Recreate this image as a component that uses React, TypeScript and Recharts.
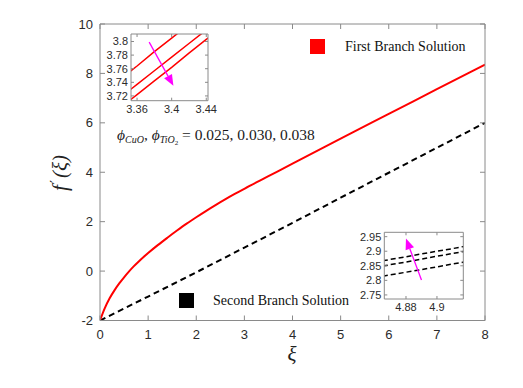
import React from "react";
import { LineChart, Line, XAxis, YAxis, ReferenceLine, Legend } from "recharts";

// main plot: f'(xi) for both branches
const xiFirst = [0, 0.1, 0.2, 0.3, 0.4, 0.5, 0.6, 0.7, 0.8, 0.9, 1.0, 1.2, 1.4, 1.6, 1.8, 2.0, 2.2, 2.4, 2.6, 2.8, 3.0, 3.5, 4, 5, 6, 7, 8];
const firstBranch = [-2, -1.5, -1.1, -0.78, -0.5, -0.25, -0.02, 0.19, 0.38, 0.56, 0.73, 1.05, 1.35, 1.64, 1.92, 2.18, 2.43, 2.67, 2.9, 3.12, 3.33, 3.84, 4.35, 5.36, 6.36, 7.36, 8.36];
const xiSecond = [0, 1, 2, 3, 4, 5, 6, 7, 8];
const secondBranch = [-2, -1.03, -0.05, 0.95, 1.95, 2.97, 3.98, 4.99, 6.0];
const xTicks = [0, 1, 2, 3, 4, 5, 6, 7, 8];
const yTicks = [-2, 0, 2, 4, 6, 8, 10];

// upper-left zoom: first branch, phi = 0.025, 0.030, 0.038
const zoom1Xi = [3.34, 3.36, 3.38, 3.4, 3.42, 3.44, 3.46];
const zoom1A = [3.744, 3.764, 3.785, 3.805, 3.825, 3.846, 3.866];
const zoom1B = [3.717, 3.737, 3.757, 3.777, 3.797, 3.817, 3.837];
const zoom1C = [3.702, 3.722, 3.742, 3.762, 3.783, 3.803, 3.823];
const zoom1XTicks = [3.36, 3.4, 3.44];
const zoom1YTicks = [3.72, 3.74, 3.76, 3.78, 3.8];

// lower-right zoom: second branch
const zoom2Xi = [4.86, 4.87, 4.88, 4.89, 4.9, 4.91, 4.92];
const zoom2A = [2.862, 2.872, 2.881, 2.891, 2.9, 2.909, 2.919];
const zoom2B = [2.844, 2.854, 2.863, 2.873, 2.883, 2.892, 2.902];
const zoom2C = [2.809, 2.819, 2.828, 2.837, 2.846, 2.856, 2.865];
const zoom2XTicks = [4.88, 4.9];
const zoom2YTicks = [2.75, 2.8, 2.85, 2.9, 2.95];

const firstRows = xiFirst.map((xi, i) => ({ xi, f: firstBranch[i] }));
const secondRows = xiSecond.map((xi, i) => ({ xi, f: secondBranch[i] }));
const zoom1Rows = zoom1Xi.map((xi, i) => ({ xi, a: zoom1A[i], b: zoom1B[i], c: zoom1C[i] }));
const zoom2Rows = zoom2Xi.map((xi, i) => ({ xi, a: zoom2A[i], b: zoom2B[i], c: zoom2C[i] }));

const AXIS = "#8a8a8a";
const SANS = "'Liberation Sans', Arial, sans-serif";
const SERIF = "'Liberation Serif', 'Times New Roman', serif";
const MAGENTA = "#ff00ff";

const legendSpots: Record<string, { box: [number, number]; text: [number, number] }> = {
  "First Branch Solution": { box: [310, 39], text: [345, 47] },
  "Second Branch Solution": { box: [179, 293], text: [213, 301] },
};

const renderLegend = (props: any) => (
  <div style={{ position: "relative", width: 0, height: 0 }}>
    {(props.payload || []).map((it: any) => {
      const spot = legendSpots[it.value];
      if (!spot) return null;
      return (
        <React.Fragment key={it.value}>
          <div style={{ position: "absolute", left: spot.box[0], top: spot.box[1], width: 15, height: 15, background: it.color }} />
          <div style={{ position: "absolute", left: spot.text[0], top: spot.text[1] - 9, fontFamily: SERIF, fontSize: 14, lineHeight: "18px", whiteSpace: "nowrap", color: "#111" }}>
            {it.value}
          </div>
        </React.Fragment>
      );
    })}
  </div>
);

const arrowShape = (p: any) => {
  const { x1, y1, x2, y2 } = p;
  const ang = Math.atan2(y2 - y1, x2 - x1);
  const L = 11;
  const W = 4.5;
  const bx = x2 - L * Math.cos(ang);
  const by = y2 - L * Math.sin(ang);
  const px = -Math.sin(ang) * W;
  const py = Math.cos(ang) * W;
  return (
    <g>
      <line x1={x1} y1={y1} x2={bx} y2={by} stroke={MAGENTA} strokeWidth={1.3} />
      <polygon points={`${x2},${y2} ${bx + px},${by + py} ${bx - px},${by - py}`} fill={MAGENTA} />
    </g>
  );
};

const noLabel = () => <g />;

export default function App() {
  const mainTick = { fill: "#2b2b2b", fontSize: 13, fontFamily: SANS };
  const smallTick = { fill: "#2b2b2b", fontSize: 11, fontFamily: SANS };
  return (
    <div style={{ position: "absolute", left: 0, top: 0, width: 523, height: 388, background: "#fff" }}>
      <LineChart width={523} height={388} margin={{ top: 23, right: 37, bottom: 66.5, left: 99 }}>
        <XAxis xAxisId="b" type="number" dataKey="xi" domain={[0, 8]} ticks={xTicks} interval={0} height={1} tickSize={-5} tickMargin={14} stroke={AXIS} tick={mainTick} allowDataOverflow />
        <XAxis xAxisId="t" orientation="top" type="number" dataKey="xi" domain={[0, 8]} ticks={xTicks} interval={0} height={1} tickSize={-5} stroke={AXIS} tick={noLabel} allowDataOverflow />
        <YAxis yAxisId="l" type="number" domain={[-2, 10]} ticks={yTicks} interval={0} width={1} tickSize={-5} tickMargin={12} stroke={AXIS} tick={mainTick} allowDataOverflow />
        <YAxis yAxisId="r" orientation="right" type="number" domain={[-2, 10]} ticks={yTicks} interval={0} width={1} tickSize={-5} stroke={AXIS} tick={noLabel} allowDataOverflow />
        <Legend content={renderLegend} wrapperStyle={{ left: 0, top: 0, width: 0, height: 0 }} />
        <Line xAxisId="b" yAxisId="l" data={secondRows} dataKey="f" name="Second Branch Solution" type="linear" stroke="#000" strokeWidth={2} strokeDasharray="6 4" dot={false} isAnimationActive={false} />
        <Line xAxisId="b" yAxisId="l" data={firstRows} dataKey="f" name="First Branch Solution" type="monotone" stroke="#ff0000" strokeWidth={2} dot={false} isAnimationActive={false} />
        <text x={292} y={361} textAnchor="middle" fontFamily={SERIF} fontStyle="italic" fontSize={21} fill="#222">ξ</text>
        <text transform="translate(67,173) rotate(-90)" textAnchor="middle" fontFamily={SERIF} fontStyle="italic" fontSize={21} fill="#222">
          f<tspan fontFamily="'DejaVu Serif', serif" fontStyle="normal" fontSize={13} dx={2} dy={-7}>′</tspan><tspan dx={2} dy={7}>(ξ)</tspan>
        </text>
        <text x={117} y={140} fontFamily={SERIF} fontSize={15.5} fill="#1a1a1a">
          <tspan fontStyle="italic">ϕ</tspan>
          <tspan fontStyle="italic" fontSize={10} dy={3}>CuO</tspan>
          <tspan dy={-3}>, </tspan>
          <tspan fontStyle="italic">ϕ</tspan>
          <tspan fontStyle="italic" fontSize={10} dy={3}>TiO</tspan>
          <tspan fontSize={7} dy={2}>2</tspan>
          <tspan dy={-5}> = 0.025, 0.030, 0.038</tspan>
        </text>
      </LineChart>

      <div style={{ position: "absolute", left: 100, top: 25 }}>
        <LineChart width={127} height={95} margin={{ top: 8, right: 18, bottom: 18.3, left: 30 }} data={zoom1Rows}>
          <XAxis xAxisId="b" type="number" dataKey="xi" domain={[3.353, 3.442]} ticks={zoom1XTicks} interval={0} height={1} tickSize={-3} tickMargin={7} stroke={AXIS} tick={smallTick} allowDataOverflow />
          <XAxis xAxisId="t" orientation="top" type="number" dataKey="xi" domain={[3.353, 3.442]} ticks={zoom1XTicks} interval={0} height={1} tickSize={-3} stroke={AXIS} tick={noLabel} allowDataOverflow />
          <YAxis yAxisId="l" type="number" domain={[3.713, 3.811]} ticks={zoom1YTicks} interval={0} width={1} tickSize={-3} tickMargin={6} stroke={AXIS} tick={smallTick} allowDataOverflow />
          <YAxis yAxisId="r" orientation="right" type="number" domain={[3.713, 3.811]} ticks={zoom1YTicks} interval={0} width={1} tickSize={-3} stroke={AXIS} tick={noLabel} allowDataOverflow />
          <Line xAxisId="b" yAxisId="l" dataKey="a" type="linear" stroke="#ff0000" strokeWidth={1.5} dot={false} isAnimationActive={false} />
          <Line xAxisId="b" yAxisId="l" dataKey="b" type="linear" stroke="#ff0000" strokeWidth={1.5} dot={false} isAnimationActive={false} />
          <Line xAxisId="b" yAxisId="l" dataKey="c" type="linear" stroke="#ff0000" strokeWidth={1.5} dot={false} isAnimationActive={false} />
          <ReferenceLine xAxisId="b" yAxisId="l" segment={[{ x: 3.374, y: 3.799 }, { x: 3.402, y: 3.735 }]} shape={arrowShape} ifOverflow="visible" />
        </LineChart>
      </div>

      <div style={{ position: "absolute", left: 355, top: 223 }}>
        <LineChart width={120} height={95} margin={{ top: 8.3, right: 10.7, bottom: 18, left: 28.3 }} data={zoom2Rows}>
          <XAxis xAxisId="b" type="number" dataKey="xi" domain={[4.866, 4.917]} ticks={zoom2XTicks} interval={0} height={1} tickSize={-3} tickMargin={7} stroke={AXIS} tick={smallTick} allowDataOverflow />
          <XAxis xAxisId="t" orientation="top" type="number" dataKey="xi" domain={[4.866, 4.917]} ticks={zoom2XTicks} interval={0} height={1} tickSize={-3} stroke={AXIS} tick={noLabel} allowDataOverflow />
          <YAxis yAxisId="l" type="number" domain={[2.736, 2.965]} ticks={zoom2YTicks} interval={0} width={1} tickSize={-3} tickMargin={6} stroke={AXIS} tick={smallTick} allowDataOverflow />
          <YAxis yAxisId="r" orientation="right" type="number" domain={[2.736, 2.965]} ticks={zoom2YTicks} interval={0} width={1} tickSize={-3} stroke={AXIS} tick={noLabel} allowDataOverflow />
          <Line xAxisId="b" yAxisId="l" dataKey="a" type="linear" stroke="#000" strokeWidth={1.5} strokeDasharray="5 3" dot={false} isAnimationActive={false} />
          <Line xAxisId="b" yAxisId="l" dataKey="b" type="linear" stroke="#000" strokeWidth={1.5} strokeDasharray="5 3" dot={false} isAnimationActive={false} />
          <Line xAxisId="b" yAxisId="l" dataKey="c" type="linear" stroke="#000" strokeWidth={1.5} strokeDasharray="5 3" dot={false} isAnimationActive={false} />
          <ReferenceLine xAxisId="b" yAxisId="l" segment={[{ x: 4.89, y: 2.801 }, { x: 4.88, y: 2.944 }]} shape={arrowShape} ifOverflow="visible" />
        </LineChart>
      </div>
    </div>
  );
}
